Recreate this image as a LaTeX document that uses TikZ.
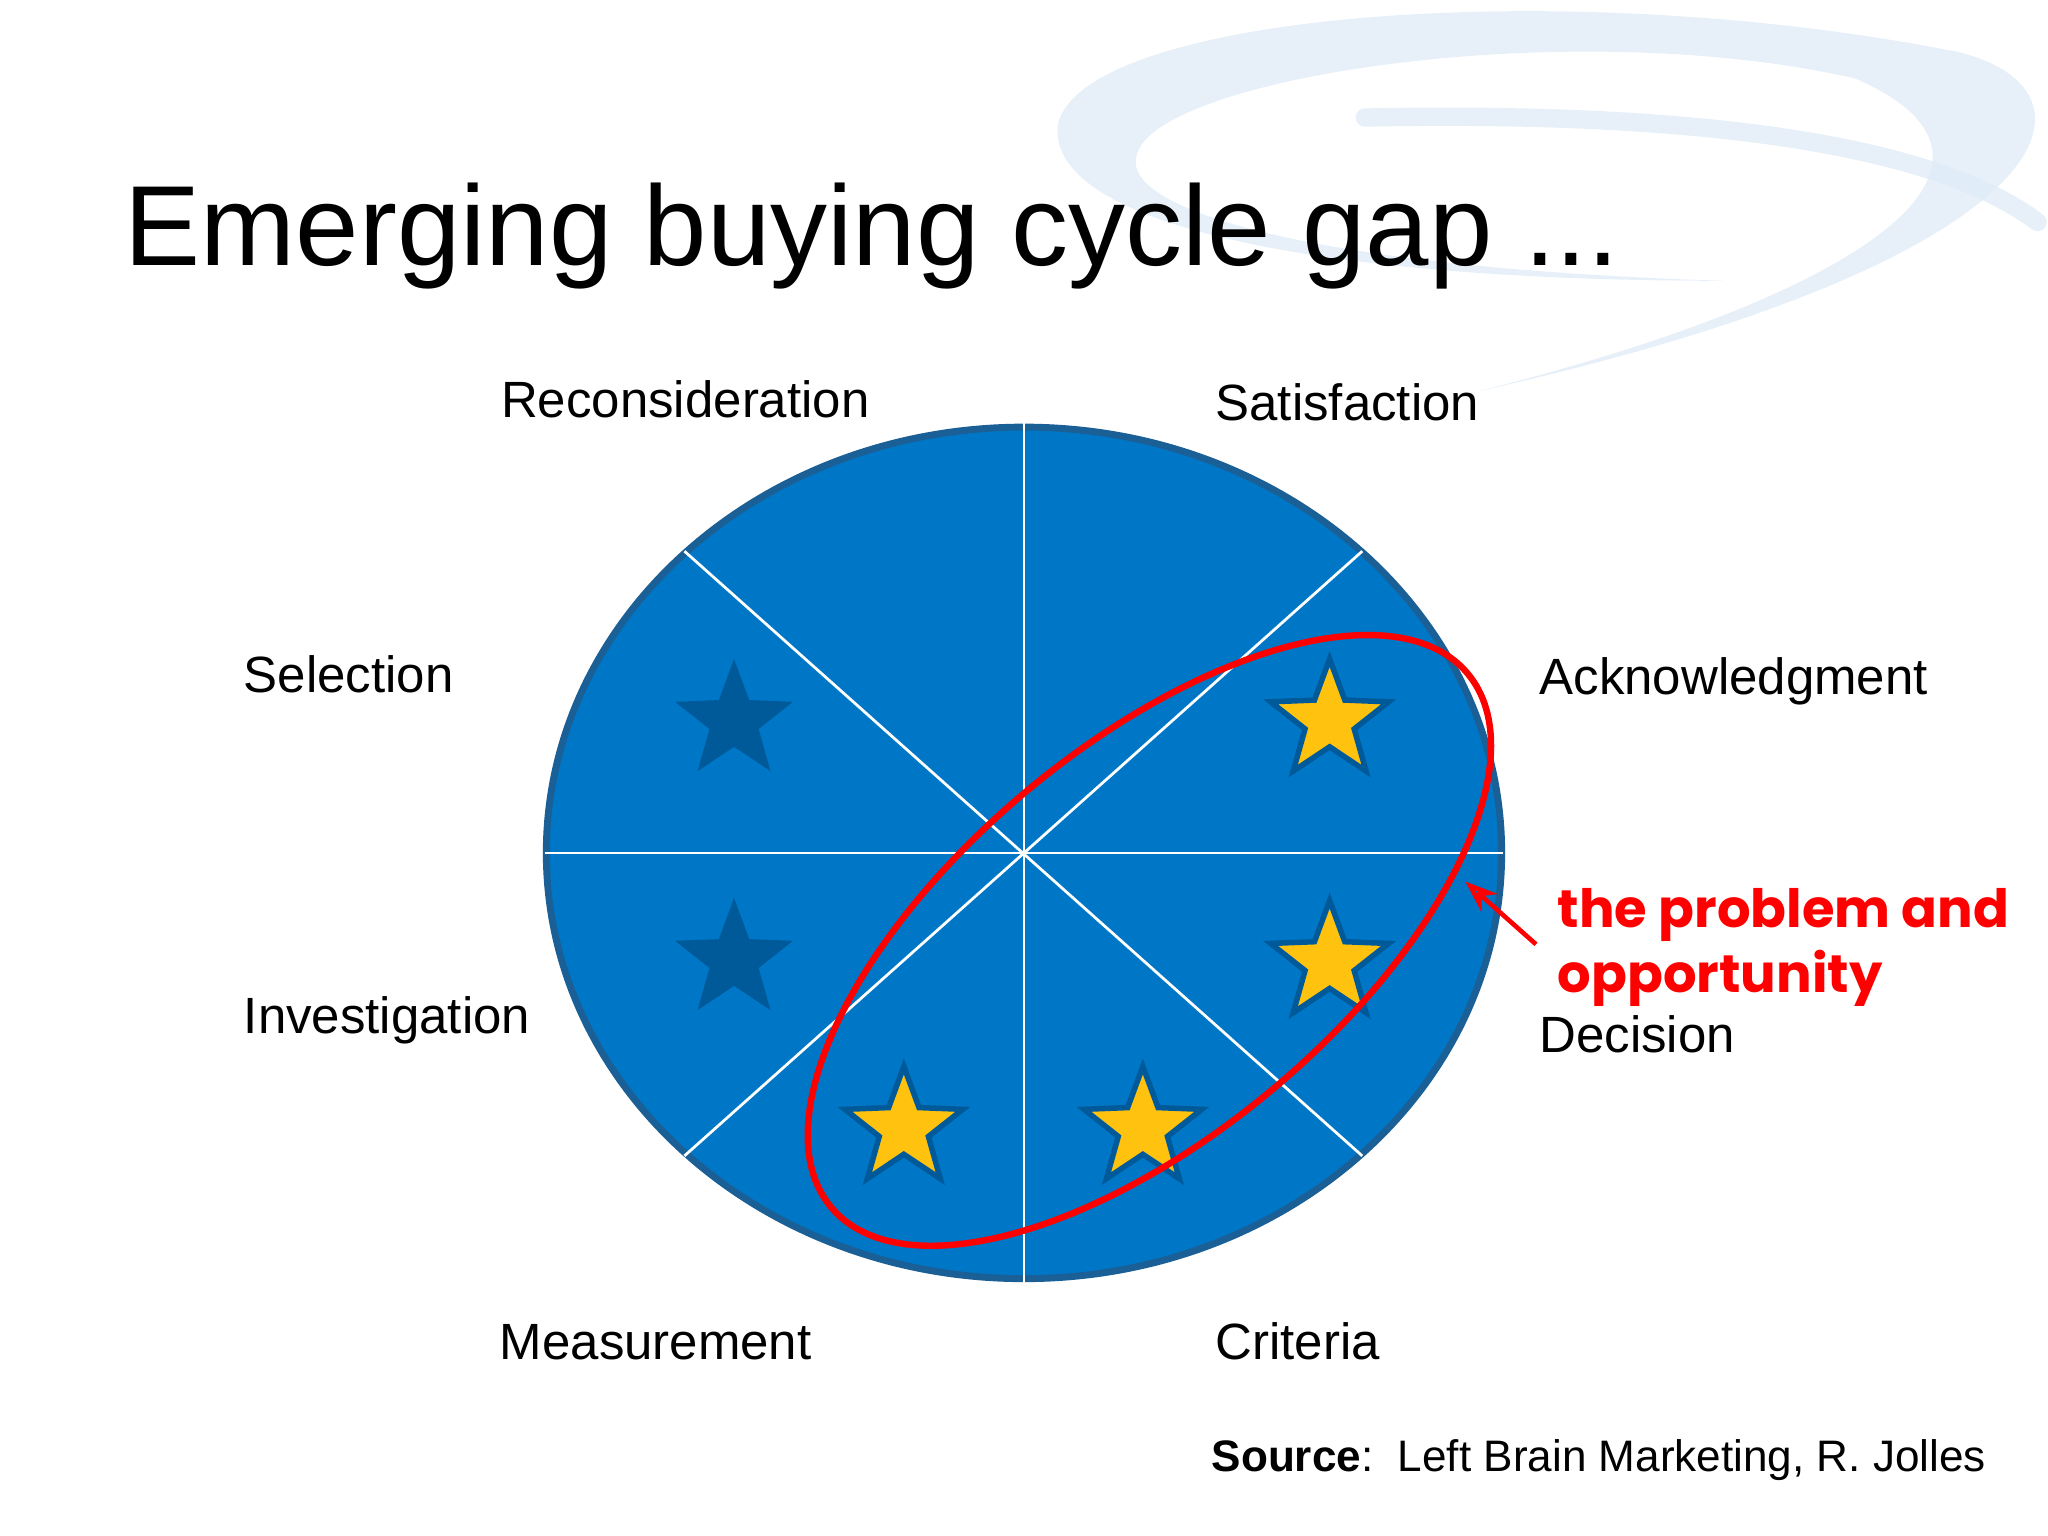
\documentclass[tikz,border=0pt]{standalone}
\usepackage{fontspec}
\setmainfont{Liberation Sans}
\newfontfamily\handfont{Poppins}
\usetikzlibrary{shapes.geometric,arrows.meta}
\definecolor{pie}{HTML}{0077C6}
\definecolor{pieb}{HTML}{1A5F95}
\definecolor{darkstar}{HTML}{005A9A}
\definecolor{gold}{HTML}{FFC20E}
\definecolor{swoosh}{HTML}{DDEAF6}
\tikzset{
  lbl/.style={anchor=base west,inner sep=0pt,font=\fontsize{11.1}{13}\selectfont},
  starshape/.style={star,star points=5,star point ratio=2.4,minimum size=27pt,inner sep=0pt},
  dstar/.style={starshape,fill=darkstar},
  ystar/.style={starshape,fill=gold,draw=darkstar,line width=1.2pt},
  wline/.style={white,line width=0.6pt}
}
\begin{document}
\begin{tikzpicture}[x=0.01cm,y=-0.01cm]
\useasboundingbox (0,0) rectangle (1568,1176);
% swoosh
\fill[swoosh,opacity=0.7] (810,95) .. controls (830,10) and (1200,-20) .. (1500,40)
  .. controls (1620,70) and (1580,200) .. (1130,300)
  .. controls (1450,220) and (1560,120) .. (1420,60)
  .. controls (1200,10) and (880,60) .. (870,120)
  .. controls (860,160) and (1000,205) .. (1320,215)
  .. controls (1000,215) and (800,170) .. (810,95) -- cycle;
\draw[swoosh,opacity=0.7,line width=4pt,line cap=round] (1045,90) .. controls (1300,85) and (1480,110) .. (1560,170);
% title
\node[anchor=base west,inner sep=0pt,font=\fontsize{24.8}{28}\selectfont] (title) at (95,203) {Emerging buying cycle gap ...};
% pie
\node[ellipse,minimum width=208pt,minimum height=185.4pt,fill=pie,draw=pieb,line width=1.5pt] (pie) at (784,653) {};
\draw[wline] (784,324) -- (784,982);
\draw[wline] (417,653) -- (1151,653);
\draw[wline] (524,422) -- (1043,885);
\draw[wline] (1043,422) -- (524,885);
% stars
\node[dstar] (s1) at (562,552) {};
\node[dstar] (s2) at (562,735) {};
\node[ystar] (s3) at (1018,552) {};
\node[ystar] (s4) at (1018,737) {};
\node[ystar] (s5) at (692,864) {};
\node[ystar] (s6) at (875,864) {};
% red ellipse
\draw[red,line width=1.4pt,rotate around={40:(880,720)}] (880,720) ellipse [x radius=318,y radius=148];
\coordinate (tip) at (1122,675);
\coordinate (tail) at (1176,723);
\draw[red,line width=1pt,-{Stealth[length=7pt,open]}] (tail) -- (tip);
\node[anchor=base west,inner sep=0pt,red,font=\handfont\bfseries\fontsize{11.5}{14}\selectfont] (prob) at (1192,710) {the problem and};
\node[anchor=base west,inner sep=0pt,red,font=\handfont\bfseries\fontsize{11.5}{14}\selectfont] (opp) at (1192,760) {opportunity};
% labels
\node[lbl] (l1) at (383,320) {Reconsideration};
\node[lbl] (l2) at (930,322) {Satisfaction};
\node[lbl] (l3) at (186,530) {Selection};
\node[lbl] (l4) at (1178,532) {Acknowledgment};
\node[lbl] (l5) at (186,791) {Investigation};
\node[lbl] (l6) at (1178,806) {Decision};
\node[lbl] (l7) at (382,1041) {Measurement};
\node[lbl] (l8) at (930,1041) {Criteria};
\node[lbl,font=\fontsize{9.6}{12}\selectfont] (src) at (927,1127) {\textbf{Source}:\ \ Left Brain Marketing, R. Jolles};
\end{tikzpicture}
\end{document}
